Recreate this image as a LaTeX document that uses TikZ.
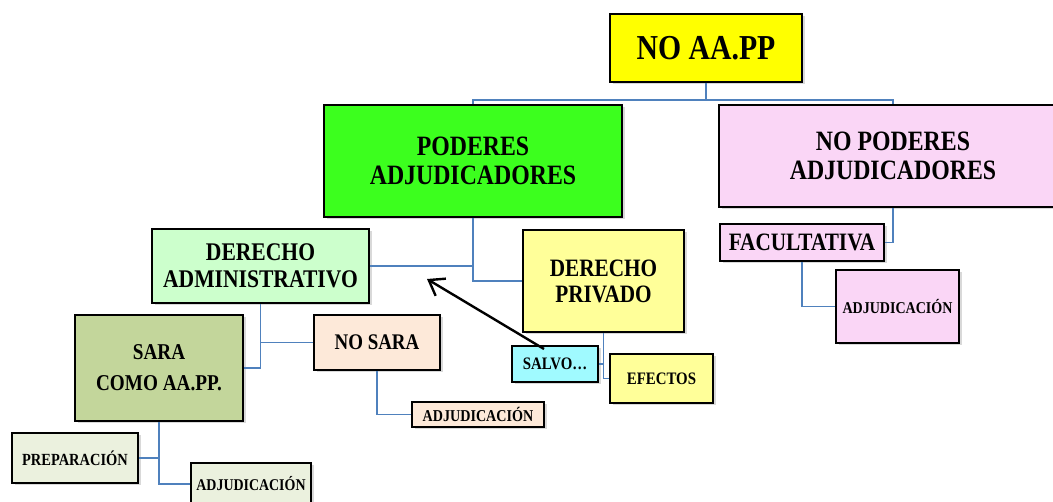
\documentclass[tikz,border=0pt]{standalone}
\usepackage{fontspec}
\setmainfont{Liberation Serif}[FakeStretch=0.85]
\usetikzlibrary{arrows.meta, shadows}

\definecolor{linkblue}{RGB}{79,129,189}
\definecolor{puroamarillo}{RGB}{255,255,0}
\definecolor{verdevivo}{RGB}{60,255,30}
\definecolor{rosa}{RGB}{250,214,246}
\definecolor{verdeclaro}{RGB}{204,255,204}
\definecolor{amarilloclaro}{RGB}{255,255,153}
\definecolor{verdeoliva}{RGB}{195,214,155}
\definecolor{salmon}{RGB}{253,233,217}
\definecolor{verdepalido}{RGB}{235,241,222}
\definecolor{cian}{RGB}{160,250,255}

\tikzset{
  box/.style={draw=black, line width=2pt, anchor=north west, align=center,
    inner sep=1pt, font=\bfseries,
    drop shadow={shadow xshift=2.5pt, shadow yshift=-2.5pt, opacity=0.3}},
  link/.style={draw=linkblue, line width=1.9pt},
}

\newcommand{\tam}[2]{\fontsize{#1}{#2}\selectfont}

\begin{document}
\begin{tikzpicture}[x=1pt, y=-1pt]
   \useasboundingbox (0,0) rectangle (1053,502);

   % nivel superior
   \node[box, fill=puroamarillo, minimum width=192pt, minimum height=68pt, font=\bfseries\tam{35}{38}] (noaapp) at (609,13) {NO AA.PP};
   \node[box, fill=verdevivo, minimum width=298pt, minimum height=112pt, font=\bfseries\tam{28}{29}] (poderes) at (323,104) {PODERES\\ADJUDICADORES};
   \node[box, fill=rosa, minimum width=348pt, minimum height=102pt, font=\bfseries\tam{28}{29}] (nopoderes) at (718,104) {NO PODERES\\ADJUDICADORES};

   % poderes adjudicadores
   \node[box, fill=verdeclaro, minimum width=217pt, minimum height=74pt, font=\bfseries\tam{25.4}{26.5}] (dadmin) at (151,228) {DERECHO\\ADMINISTRATIVO};
   \node[box, fill=amarilloclaro, minimum width=161pt, minimum height=102pt, font=\bfseries\tam{25}{26}] (dprivado) at (522,229) {DERECHO\\PRIVADO};
   \node[box, fill=verdeoliva, minimum width=168pt, minimum height=106pt, font=\bfseries\tam{22.6}{31}] (sara) at (74,314) {SARA\\COMO AA.PP.};
   \node[box, fill=salmon, minimum width=126pt, minimum height=55pt, font=\bfseries\tam{22.3}{24}] (nosara) at (313,314) {NO SARA};
   \node[box, fill=salmon, minimum width=132pt, minimum height=25pt, font=\bfseries\tam{16.6}{18}] (adjnosara) at (411,401) {ADJUDICACIÓN};
   \node[box, fill=verdepalido, minimum width=126pt, minimum height=50pt, font=\bfseries\tam{17}{18}] (prep) at (11,432) {PREPARACIÓN};
   \node[box, fill=verdepalido, minimum width=120pt, minimum height=42pt, font=\bfseries\tam{16.4}{18}] (adjsara) at (190,462) {ADJUDICACIÓN};
   \node[box, fill=cian, minimum width=86pt, minimum height=36pt, font=\bfseries\tam{17.5}{19}] (salvo) at (511,345) {SALVO…};
   \node[box, fill=amarilloclaro, minimum width=103pt, minimum height=49pt, font=\bfseries\tam{17.5}{19}] (efectos) at (609,353) {EFECTOS};

   % no poderes adjudicadores
   \node[box, fill=rosa, minimum width=164pt, minimum height=37pt, font=\bfseries\tam{25}{26}] (facult) at (719,223) {FACULTATIVA};
   \node[box, fill=rosa, minimum width=123pt, minimum height=73pt, font=\bfseries\tam{16.5}{18}] (adjfacult) at (835,269) {ADJUDICACIÓN};

   % conectores
   \draw[link] (noaapp.south) -- ++(0,17) -| (poderes.north);
   \draw[link] (noaapp.south) -- ++(0,17) -| (nopoderes.north);
   \draw[link] (poderes.south) |- (dprivado.west);
   \draw[link] (dadmin.east) -- (dadmin.east -| poderes.south);
   \draw[link] (dadmin.south) |- (sara.east);
   \draw[link] (dadmin.south |- nosara.west) -- (nosara.west);
   \draw[link] (nosara.south) |- (adjnosara.west);
   \draw[link] (sara.south) |- (adjsara.west);
   \draw[link] (sara.south |- prep.east) -- (prep.east);
   \draw[link] (dprivado.south) |- (efectos.west);
   \draw[link] (dprivado.south |- salvo.east) -- (salvo.east);
   \draw[link] (nopoderes.south) |- (facult.east);
   \draw[link] (facult.south) |- (adjfacult.west);

   % flecha
   \coordinate (punta) at (427,279);
   \draw[line width=2.4pt, -{Straight Barb[length=14pt, width=20pt]}] ([xshift=-11pt, yshift=-4pt]salvo.north) -- (punta);
\end{tikzpicture}
\end{document}
